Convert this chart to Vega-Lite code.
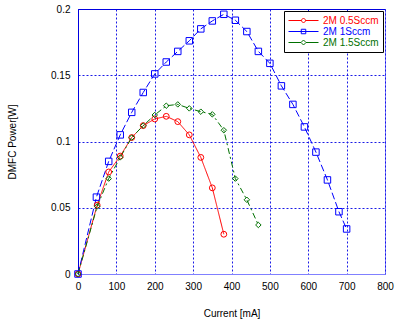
{
  "$schema": "https://vega.github.io/schema/vega-lite/v6.json",
  "width": 307,
  "height": 265,
  "autosize": {"type": "none"},
  "padding": {"left": 78, "top": 9, "right": 11, "bottom": 47},
  "background": "white",
  "config": {
    "font": "Liberation Sans",
    "view": {"stroke": "#8080ff", "strokeWidth": 1},
    "axis": {"labelFont": "Liberation Sans", "titleFont": "Liberation Sans", "labelFontSize": 10, "titleFontSize": 10, "titleFontWeight": "normal", "labelColor": "black", "titleColor": "black"}
  },
  "data": {"values": [
    {"series": "2M 0.5Sccm", "current": 0, "power": 0},
    {"series": "2M 0.5Sccm", "current": 50, "power": 0.052},
    {"series": "2M 0.5Sccm", "current": 80, "power": 0.077},
    {"series": "2M 0.5Sccm", "current": 110, "power": 0.089},
    {"series": "2M 0.5Sccm", "current": 140, "power": 0.103},
    {"series": "2M 0.5Sccm", "current": 170, "power": 0.112},
    {"series": "2M 0.5Sccm", "current": 200, "power": 0.117},
    {"series": "2M 0.5Sccm", "current": 230, "power": 0.119},
    {"series": "2M 0.5Sccm", "current": 260, "power": 0.115},
    {"series": "2M 0.5Sccm", "current": 290, "power": 0.105},
    {"series": "2M 0.5Sccm", "current": 320, "power": 0.088},
    {"series": "2M 0.5Sccm", "current": 350, "power": 0.065},
    {"series": "2M 0.5Sccm", "current": 380, "power": 0.030},
    {"series": "2M 1Sccm", "current": 0, "power": 0},
    {"series": "2M 1Sccm", "current": 48, "power": 0.058},
    {"series": "2M 1Sccm", "current": 80, "power": 0.085},
    {"series": "2M 1Sccm", "current": 110, "power": 0.105},
    {"series": "2M 1Sccm", "current": 140, "power": 0.122},
    {"series": "2M 1Sccm", "current": 170, "power": 0.137},
    {"series": "2M 1Sccm", "current": 200, "power": 0.151},
    {"series": "2M 1Sccm", "current": 230, "power": 0.160},
    {"series": "2M 1Sccm", "current": 260, "power": 0.168},
    {"series": "2M 1Sccm", "current": 290, "power": 0.176},
    {"series": "2M 1Sccm", "current": 320, "power": 0.185},
    {"series": "2M 1Sccm", "current": 350, "power": 0.191},
    {"series": "2M 1Sccm", "current": 380, "power": 0.196},
    {"series": "2M 1Sccm", "current": 410, "power": 0.1915},
    {"series": "2M 1Sccm", "current": 440, "power": 0.183},
    {"series": "2M 1Sccm", "current": 470, "power": 0.168},
    {"series": "2M 1Sccm", "current": 500, "power": 0.159},
    {"series": "2M 1Sccm", "current": 530, "power": 0.142},
    {"series": "2M 1Sccm", "current": 560, "power": 0.128},
    {"series": "2M 1Sccm", "current": 590, "power": 0.111},
    {"series": "2M 1Sccm", "current": 620, "power": 0.092},
    {"series": "2M 1Sccm", "current": 650, "power": 0.071},
    {"series": "2M 1Sccm", "current": 680, "power": 0.047},
    {"series": "2M 1Sccm", "current": 700, "power": 0.034},
    {"series": "2M 1.5Sccm", "current": 0, "power": 0},
    {"series": "2M 1.5Sccm", "current": 50, "power": 0.051},
    {"series": "2M 1.5Sccm", "current": 80, "power": 0.072},
    {"series": "2M 1.5Sccm", "current": 110, "power": 0.088},
    {"series": "2M 1.5Sccm", "current": 140, "power": 0.103},
    {"series": "2M 1.5Sccm", "current": 170, "power": 0.112},
    {"series": "2M 1.5Sccm", "current": 200, "power": 0.120},
    {"series": "2M 1.5Sccm", "current": 230, "power": 0.127},
    {"series": "2M 1.5Sccm", "current": 260, "power": 0.128},
    {"series": "2M 1.5Sccm", "current": 290, "power": 0.125},
    {"series": "2M 1.5Sccm", "current": 320, "power": 0.1225},
    {"series": "2M 1.5Sccm", "current": 350, "power": 0.1205},
    {"series": "2M 1.5Sccm", "current": 380, "power": 0.1085},
    {"series": "2M 1.5Sccm", "current": 410, "power": 0.072},
    {"series": "2M 1.5Sccm", "current": 440, "power": 0.056},
    {"series": "2M 1.5Sccm", "current": 470, "power": 0.037}
  ]},
  "layer": [
    {
      "mark": {"type": "line", "strokeWidth": 1},
      "encoding": {
        "x": {"field": "current", "type": "quantitative",
          "scale": {"domain": [0, 800], "nice": false, "zero": false},
          "axis": {"orient": "bottom", "title": "Current [mA]", "values": [0,100,200,300,400,500,600,700,800],
            "ticks": false, "tickSize": 0, "labelPadding": 7, "titlePadding": 17,
            "domainColor": "#8080ff", "grid": true, "gridColor": "#1a1ae6", "gridDash": [2, 2], "gridWidth": 1, "labelFlush": false}},
        "y": {"field": "power", "type": "quantitative",
          "scale": {"domain": [0, 0.2], "nice": false, "zero": false},
          "axis": {"title": "DMFC Power[W]", "values": [0, 0.05, 0.1, 0.15, 0.2], "format": ".2~f",
            "ticks": false, "tickSize": 0, "labelPadding": 8, "titlePadding": 33,
            "domainColor": "#0000e0", "grid": true, "gridColor": "#1a1ae6", "gridDash": [2, 2], "gridWidth": 1, "labelFlush": false}},
        "color": {"field": "series", "type": "nominal",
          "scale": {"domain": ["2M 0.5Sccm", "2M 1Sccm", "2M 1.5Sccm"], "range": ["#ff0000", "#0000ff", "#007000"]},
          "legend": {
            "title": null, "orient": "none", "legendX": 206, "legendY": 2,
            "fillColor": "white", "strokeColor": "black", "padding": 4, "rowPadding": 0,
            "symbolSize": 100, "labelOffset": 24, "labelFontSize": 10, "labelFont": "Liberation Sans",
            "encode": {
              "symbols": {"update": {
                "shape": {"signal": "datum.value === '2M 0.5Sccm' ? 'M-1,0L1.6,0M2.4,0L5,0M1.6,0A0.4,0.4 0 1 1 2.4,0A0.4,0.4 0 1 1 1.6,0' : datum.value === '2M 1Sccm' ? 'M-1,0L5,0M1.55,-0.45L2.45,-0.45L2.45,0.45L1.55,0.45Z' : 'M-1,0L1.5,0M2.5,0L5,0M1.5,0L2,-0.5L2.5,0L2,0.5Z'"},
                "fill": {"value": "transparent"},
                "stroke": {"scale": "color", "field": "value"},
                "strokeWidth": {"value": 1},
                "opacity": {"value": 1}
              }},
              "labels": {"update": {"fill": {"scale": "color", "field": "value"}}}
            }
          }},
        "strokeDash": {
          "condition": [
            {"test": "datum.series === '2M 1Sccm'", "value": [7, 3]},
            {"test": "datum.series === '2M 1.5Sccm'", "value": [6, 3, 2, 3]}
          ],
          "value": [1, 0]}
      }
    },
    {
      "layer": [
        {
          "transform": [{"filter": "datum.series === '2M 0.5Sccm'"}],
          "mark": {"type": "point", "filled": false, "strokeWidth": 1, "opacity": 1, "shape": "circle", "color": "#ff0000", "size": 34},
          "encoding": {
            "x": {"field": "current", "type": "quantitative",
              "axis": {"orient": "top", "title": null, "labels": false, "ticks": false, "grid": false, "domainColor": "#0000e0"}},
            "y": {"field": "power", "type": "quantitative",
              "axis": {"title": "DMFC Power[W]", "values": [0, 0.05, 0.1, 0.15, 0.2], "format": ".2~f",
                "ticks": false, "tickSize": 0, "labelPadding": 8, "titlePadding": 33,
                "domainColor": "#0000e0", "grid": true, "gridColor": "#1a1ae6", "gridDash": [2, 2], "gridWidth": 1, "labelFlush": false}}
          }
        },
        {
          "transform": [{"filter": "datum.series === '2M 1Sccm'"}],
          "mark": {"type": "point", "filled": false, "strokeWidth": 1, "opacity": 1, "shape": "square", "color": "#0000ff", "size": 42},
          "encoding": {
            "x": {"field": "current", "type": "quantitative",
              "axis": {"orient": "top", "title": null, "labels": false, "ticks": false, "grid": false, "domainColor": "#0000e0"}},
            "y": {"field": "power", "type": "quantitative",
              "axis": {"title": "DMFC Power[W]", "values": [0, 0.05, 0.1, 0.15, 0.2], "format": ".2~f",
                "ticks": false, "tickSize": 0, "labelPadding": 8, "titlePadding": 33,
                "domainColor": "#0000e0", "grid": true, "gridColor": "#1a1ae6", "gridDash": [2, 2], "gridWidth": 1, "labelFlush": false}}
          }
        },
        {
          "transform": [{"filter": "datum.series === '2M 1.5Sccm'"}],
          "mark": {"type": "point", "filled": false, "strokeWidth": 1, "opacity": 1, "shape": "diamond", "color": "#007000", "size": 30},
          "encoding": {
            "x": {"field": "current", "type": "quantitative",
              "axis": {"orient": "top", "title": null, "labels": false, "ticks": false, "grid": false, "domainColor": "#0000e0"}},
            "y": {"field": "power", "type": "quantitative",
              "axis": {"title": "DMFC Power[W]", "values": [0, 0.05, 0.1, 0.15, 0.2], "format": ".2~f",
                "ticks": false, "tickSize": 0, "labelPadding": 8, "titlePadding": 33,
                "domainColor": "#0000e0", "grid": true, "gridColor": "#1a1ae6", "gridDash": [2, 2], "gridWidth": 1, "labelFlush": false}}
          }
        }
      ]
    }
  ]
}
